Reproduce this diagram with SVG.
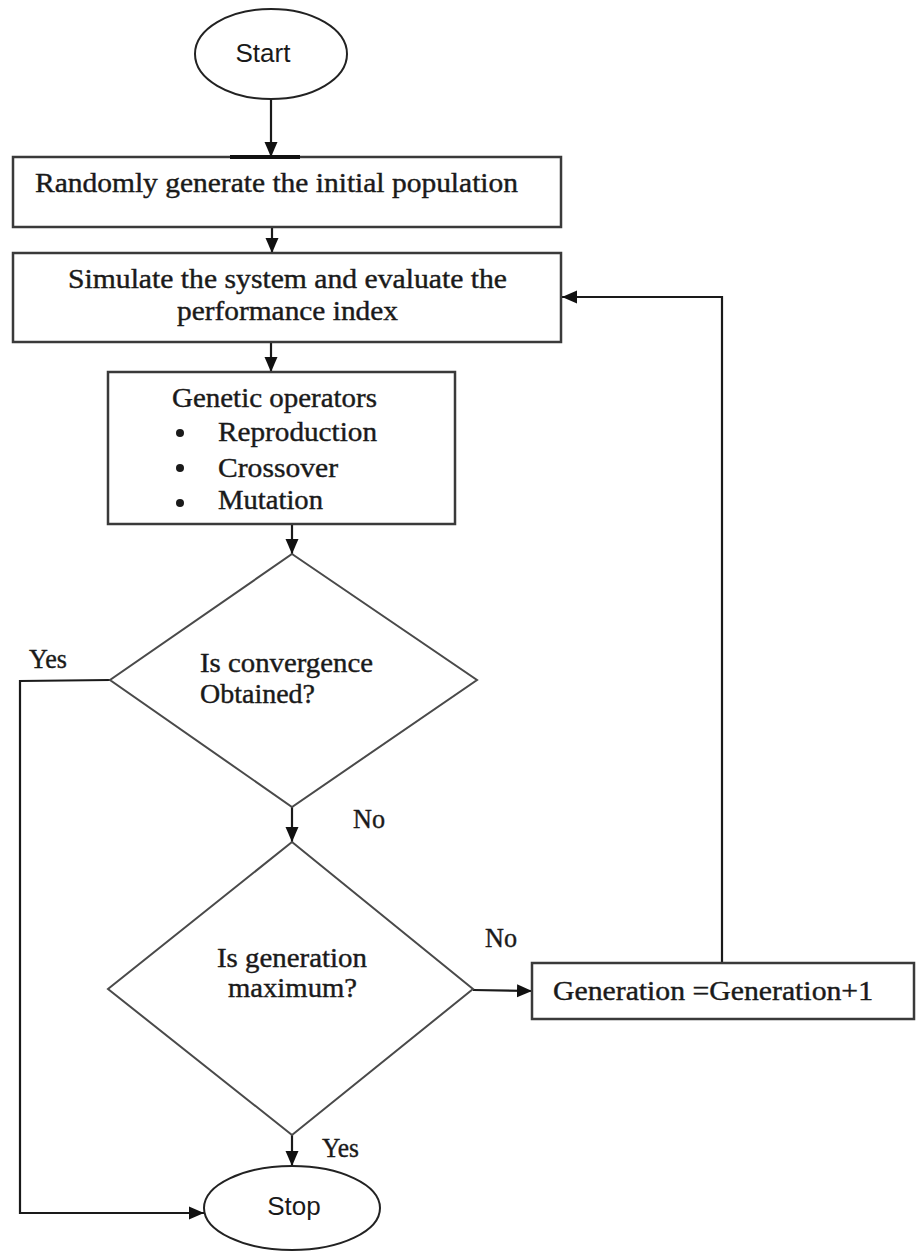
<svg xmlns="http://www.w3.org/2000/svg" width="916" height="1251" viewBox="0 0 916 1251">
  <defs>
    <marker id="arrow" markerUnits="userSpaceOnUse" markerWidth="16" markerHeight="16" viewBox="0 0 16 16" refX="15" refY="8" orient="auto">
      <path d="M0,1.5 L15,8 L0,14.5 Z" fill="#111"/>
    </marker>
    <style>
      .box { fill: #fff; stroke: #3a3a3a; stroke-width: 2.5; }
      .dia { fill: #fff; stroke: #4a4a4a; stroke-width: 2; }
      .term { fill: #fff; stroke: #222; stroke-width: 2; }
      .conn { fill: none; stroke: #1a1a1a; stroke-width: 2.2; }
      .serif { font-family: "Liberation Serif", "Times New Roman", serif; font-size: 27px; fill: #1a1a1a; stroke: #1a1a1a; stroke-width: 0.4; }
      .sans { font-family: "Liberation Sans", Arial, sans-serif; font-size: 26px; fill: #1a1a1a; }
    </style>
  </defs>
  <rect width="916" height="1251" fill="#fff"/>

  <g id="connectors">
    <line class="conn" x1="271" y1="99" x2="271" y2="157" marker-end="url(#arrow)"/>
    <line class="conn" x1="272" y1="227" x2="272" y2="253" marker-end="url(#arrow)"/>
    <line class="conn" x1="271" y1="342" x2="271" y2="372" marker-end="url(#arrow)"/>
    <line class="conn" x1="292" y1="524" x2="292" y2="554" marker-end="url(#arrow)"/>
    <line class="conn" x1="292" y1="807" x2="292" y2="842" marker-end="url(#arrow)"/>
    <line class="conn" x1="292" y1="1135" x2="292" y2="1166" marker-end="url(#arrow)"/>
    <polyline class="conn" points="110,680 20,681 20,1213 204,1213" marker-end="url(#arrow)"/>
    <line class="conn" x1="473" y1="990" x2="532" y2="991" marker-end="url(#arrow)"/>
    <polyline class="conn" points="722,963 722,297 562,297" marker-end="url(#arrow)"/>
  </g>

  <g id="start">
    <ellipse class="term" cx="271" cy="54" rx="76" ry="45"/>
    <text class="sans" x="263" y="62" text-anchor="middle">Start</text>
  </g>

  <g id="init-population">
    <rect class="box" x="13" y="157" width="548" height="70"/>
    <line x1="230" y1="157" x2="300" y2="157" stroke="#111" stroke-width="4"/>
    <text class="serif" x="35" y="192" textLength="483" lengthAdjust="spacingAndGlyphs">Randomly generate  the initial population</text>
  </g>

  <g id="simulate">
    <rect class="box" x="13" y="253" width="548" height="89"/>
    <text class="serif" x="68" y="288" textLength="439" lengthAdjust="spacingAndGlyphs">Simulate the system and evaluate the</text>
    <text class="serif" x="177" y="320" textLength="221" lengthAdjust="spacingAndGlyphs">performance  index</text>
  </g>

  <g id="genetic-operators">
    <rect class="box" x="108" y="372" width="347" height="152"/>
    <text class="serif" x="172" y="407" textLength="205" lengthAdjust="spacingAndGlyphs">Genetic operators</text>
    <circle cx="180" cy="433" r="4" fill="#1a1a1a"/>
    <circle cx="180" cy="468" r="4" fill="#1a1a1a"/>
    <circle cx="180" cy="503" r="4" fill="#1a1a1a"/>
    <text class="serif" x="218" y="441" textLength="159" lengthAdjust="spacingAndGlyphs">Reproduction</text>
    <text class="serif" x="218" y="477" textLength="120" lengthAdjust="spacingAndGlyphs">Crossover</text>
    <text class="serif" x="218" y="509" textLength="105" lengthAdjust="spacingAndGlyphs">Mutation</text>
  </g>

  <g id="convergence">
    <polygon class="dia" points="292,554 477,680 292,807 110,680"/>
    <text class="serif" x="200" y="672" textLength="173" lengthAdjust="spacingAndGlyphs">Is convergence</text>
    <text class="serif" x="200" y="703" textLength="115" lengthAdjust="spacingAndGlyphs">Obtained?</text>
  </g>

  <g id="generation-max">
    <polygon class="dia" points="292,842 473,989 292,1135 108,989"/>
    <text class="serif" x="217" y="967" textLength="150" lengthAdjust="spacingAndGlyphs">Is generation</text>
    <text class="serif" x="228" y="997" textLength="129" lengthAdjust="spacingAndGlyphs">maximum?</text>
  </g>

  <g id="generation-inc">
    <rect class="box" x="532" y="963" width="382" height="56"/>
    <text class="serif" x="553" y="1000" textLength="320" lengthAdjust="spacingAndGlyphs">Generation =Generation+1</text>
  </g>

  <g id="stop">
    <ellipse class="term" cx="292" cy="1208" rx="88" ry="42"/>
    <text class="sans" x="294" y="1215" text-anchor="middle">Stop</text>
  </g>

  <g id="labels">
    <text class="serif" x="29" y="668" textLength="38" lengthAdjust="spacingAndGlyphs">Yes</text>
    <text class="serif" x="353" y="828" textLength="32" lengthAdjust="spacingAndGlyphs">No</text>
    <text class="serif" x="485" y="947" textLength="32" lengthAdjust="spacingAndGlyphs">No</text>
    <text class="serif" x="322" y="1157" textLength="37" lengthAdjust="spacingAndGlyphs">Yes</text>
  </g>
</svg>
